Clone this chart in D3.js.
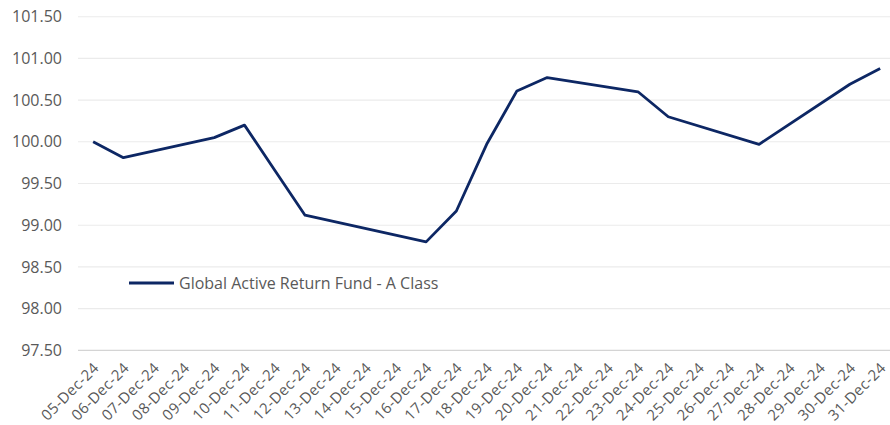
<!DOCTYPE html>
<html>
<head>
<meta charset="utf-8">
<script src="https://cdn.jsdelivr.net/npm/d3@7"></script>
<style>
  body { margin: 0; background: #fff; }
  svg { display: block; font-family: "Open Sans", sans-serif; }
</style>
</head>
<body>
<svg id="chart" width="890" height="425"></svg>
<script>
// dates on the category axis
const dates = ['05-Dec-24', '06-Dec-24', '07-Dec-24', '08-Dec-24', '09-Dec-24', '10-Dec-24',
  '11-Dec-24', '12-Dec-24', '13-Dec-24', '14-Dec-24', '15-Dec-24', '16-Dec-24', '17-Dec-24',
  '18-Dec-24', '19-Dec-24', '20-Dec-24', '21-Dec-24', '22-Dec-24', '23-Dec-24', '24-Dec-24',
  '25-Dec-24', '26-Dec-24', '27-Dec-24', '28-Dec-24', '29-Dec-24', '30-Dec-24', '31-Dec-24'];

// fund price, null = no price that day
const prices = [100.00, 99.81, null, null, 100.05, 100.20,
  99.66, 99.12, null, null, null, 98.80, 99.17,
  99.97, 100.61, 100.77, null, null, 100.60, 100.30,
  null, null, 99.97, null, null, 100.69, 100.88];

const yTicks = [97.5, 98, 98.5, 99, 99.5, 100, 100.5, 101, 101.5];
const seriesName = 'Global Active Return Fund - A Class';

const svg = d3.select('#chart');
const plotLeft = 78, plotTop = 16.7, plotBottom = 350.3;
const step = 30.27;

const x = d3.scaleBand()
  .domain(dates)
  .range([plotLeft, plotLeft + step * dates.length])
  .padding(0);

const y = d3.scaleLinear()
  .domain([97.5, 101.5])
  .range([plotBottom, plotTop]);

// gridlines
svg.append('g')
  .selectAll('line')
  .data(yTicks)
  .enter()
  .append('line')
  .attr('x1', plotLeft)
  .attr('x2', 890)
  .attr('y1', (d) => y(d))
  .attr('y2', (d) => y(d))
  .attr('stroke', (d) => d === 97.5 ? '#d4d4d4' : '#ebebeb')
  .attr('stroke-width', (d) => d === 97.5 ? 1.3 : 1.1);

// y labels
const yAxis = svg.append('g')
  .attr('transform', `translate(${plotLeft - 16},0)`)
  .call(d3.axisLeft(y).tickValues(yTicks).tickFormat(d3.format('.2f')).tickSize(0).tickPadding(0));
yAxis.select('.domain').remove();
yAxis.selectAll('text')
  .attr('font-family', '"Open Sans", sans-serif')
  .attr('font-size', 16)
  .attr('fill', '#595959');

// x labels
svg.append('g')
  .selectAll('text')
  .data(dates)
  .enter()
  .append('text')
  .attr('transform', (d) => `translate(${x(d) + x.bandwidth() / 2 + 3},${plotBottom + 15}) rotate(-45)`)
  .attr('text-anchor', 'end')
  .attr('dy', '0.35em')
  .attr('font-size', 15)
  .attr('letter-spacing', 0.4)
  .attr('fill', '#595959')
  .text((d) => d);

// the price line, gaps bridged
const points = dates.map((d, i) => ({date: d, value: prices[i]}))
  .filter((d) => d.value !== null);

const line = d3.line()
  .x((d) => x(d.date) + x.bandwidth() / 2)
  .y((d) => y(d.value));

svg.append('path')
  .datum(points)
  .attr('d', line)
  .attr('fill', 'none')
  .attr('stroke', '#0d2764')
  .attr('stroke-width', 2.8)
  .attr('stroke-linejoin', 'round');

// legend
const legend = svg.append('g').attr('transform', 'translate(129,283)');
legend.append('line')
  .attr('x1', 0)
  .attr('x2', 45)
  .attr('stroke', '#0d2764')
  .attr('stroke-width', 2.8);
legend.append('text')
  .attr('x', 50)
  .attr('dy', '0.35em')
  .attr('font-size', 16)
  .attr('fill', '#595959')
  .text(seriesName);
</script>
</body>
</html>
